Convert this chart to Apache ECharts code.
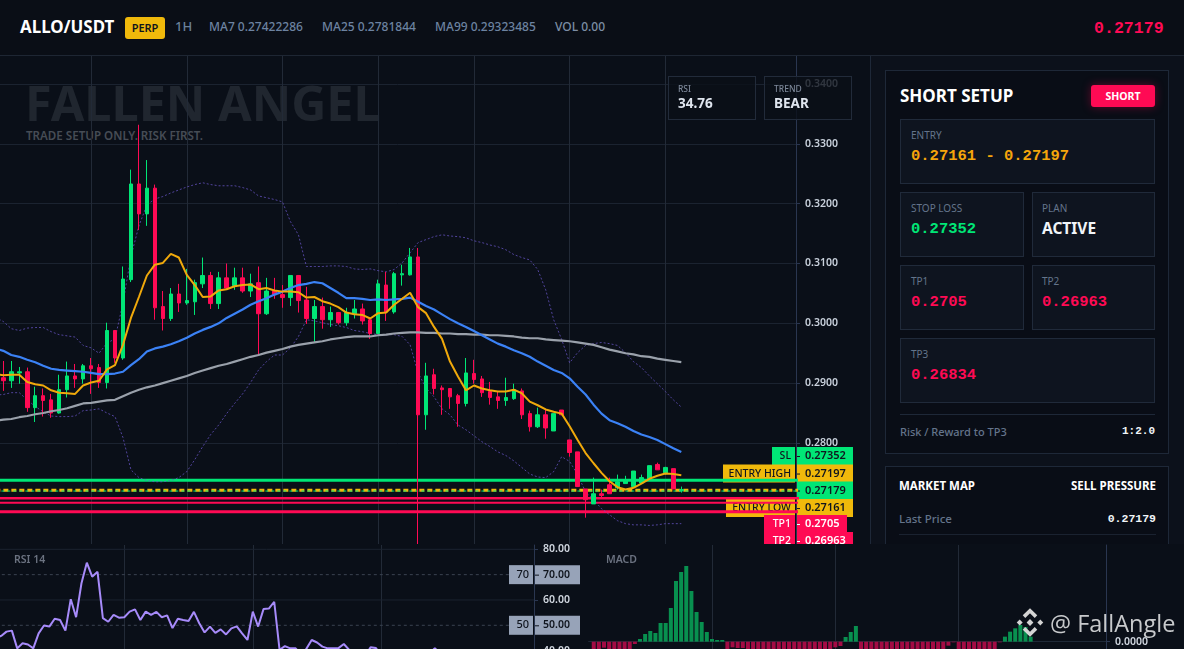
<!DOCTYPE html>
<html><head><meta charset="utf-8">
<script src="https://cdn.jsdelivr.net/npm/echarts@6/dist/echarts.min.js"></script>
<style>
html,body{margin:0;padding:0;width:1184px;height:649px;overflow:hidden;background:#0a0f18;font-family:"Noto Sans",sans-serif;}
.a{position:absolute;white-space:nowrap;line-height:1;}
.m{font-family:"Liberation Mono",monospace;font-weight:700;}
.box{position:absolute;box-sizing:border-box;border:1px solid #1e2838;}
.card{position:absolute;box-sizing:border-box;border:1px solid #202a3a;background:#0e141f;}
.lb{color:#64748b;font-size:10px;}
.val{font-size:15.5px;}
</style></head>
<body>
<div class="a" id="wm1" style="left:25px;top:72px;font-size:48.6px;line-height:60px;font-weight:700;color:#20262f;">FALLEN ANGEL</div>
<div class="a" style="left:26px;top:130px;font-size:11.6px;font-weight:600;color:#464c55;">TRADE SETUP ONLY. RISK FIRST.</div>
<div id="main" style="position:absolute;left:0;top:56px;width:870px;height:489px;"></div>

<div style="position:absolute;left:0;top:0;width:1184px;height:55px;border-bottom:1px solid #1e2633;background:#0a0e16;"></div>
<div class="a" style="left:20px;top:19px;font-size:16.9px;font-weight:700;color:#fff;">ALLO/USDT</div>
<div class="a" style="left:125px;top:17px;width:40px;height:22px;line-height:22px;text-align:center;background:#f0b90b;border-radius:3px;color:#10141c;font-size:11px;font-weight:600;">PERP</div>
<div class="a" style="left:175px;top:20px;font-size:13px;color:#6a8199;font-weight:500;">1H</div>
<div class="a" style="left:209px;top:21px;font-size:12px;color:#6d83a1;font-weight:500;">MA7 0.27422286</div>
<div class="a" style="left:322px;top:21px;font-size:12px;color:#6d83a1;font-weight:500;">MA25 0.2781844</div>
<div class="a" style="left:435px;top:21px;font-size:12px;color:#6d83a1;font-weight:500;">MA99 0.29323485</div>
<div class="a" style="left:555px;top:21px;font-size:12px;color:#7d8ea5;font-weight:500;">VOL 0.00</div>
<div class="a m" style="left:1094px;top:21px;font-size:16.6px;color:#ff0a54;">0.27179</div>

<div class="box" style="left:668px;top:76px;width:88px;height:44px;background:rgba(10,15,24,.8);border-color:#222b3a;"></div>
<div class="a" style="left:678px;top:85px;font-size:8.5px;color:#7d8899;font-weight:500;">RSI</div>
<div class="a" style="left:678px;top:97px;font-size:13.5px;color:#dfe5ee;font-weight:700;">34.76</div>
<div class="box" style="left:764px;top:76px;width:88px;height:44px;background:rgba(10,15,24,.8);border-color:#222b3a;"></div>
<div class="a" style="left:774px;top:85px;font-size:8.5px;color:#7d8899;font-weight:500;">TREND</div>
<div class="a" style="left:774px;top:97px;font-size:13.5px;color:#dfe5ee;font-weight:700;">BEAR</div>

<div style="position:absolute;left:870px;top:56px;width:314px;height:489px;background:#0c111b;border-left:1px solid #1e2838;box-sizing:border-box;"></div>
<div class="box" style="left:885px;top:70px;width:284px;height:384px;background:#090d16;"></div>
<div class="a" style="left:900px;top:87px;font-size:17px;font-weight:700;color:#fff;">SHORT SETUP</div>
<div class="a" style="left:1091px;top:85px;width:64px;height:22px;line-height:22px;text-align:center;background:#ff0a54;border-radius:3px;color:#fff;font-size:10.5px;font-weight:700;box-shadow:0 0 10px rgba(255,10,84,.35);">SHORT</div>

<div class="card" style="left:900px;top:119px;width:255px;height:65px;"></div>
<div class="a lb" style="left:911px;top:130px;">ENTRY</div>
<div class="a m val" style="left:911px;top:149px;color:#f5a50b;">0.27161 - 0.27197</div>

<div class="card" style="left:900px;top:192px;width:124px;height:65px;"></div>
<div class="a lb" style="left:911px;top:203px;">STOP LOSS</div>
<div class="a m val" style="left:911px;top:222px;color:#00e676;">0.27352</div>
<div class="card" style="left:1032px;top:192px;width:123px;height:65px;"></div>
<div class="a lb" style="left:1042px;top:203px;">PLAN</div>
<div class="a" style="left:1042px;top:221px;font-size:15.5px;font-weight:700;color:#f1f5f9;">ACTIVE</div>

<div class="card" style="left:900px;top:265px;width:124px;height:65px;"></div>
<div class="a lb" style="left:911px;top:276px;">TP1</div>
<div class="a m val" style="left:911px;top:295px;color:#ff0a54;">0.2705</div>
<div class="card" style="left:1032px;top:265px;width:123px;height:65px;"></div>
<div class="a lb" style="left:1042px;top:276px;">TP2</div>
<div class="a m val" style="left:1042px;top:295px;color:#ff0a54;">0.26963</div>

<div class="card" style="left:900px;top:338px;width:255px;height:65px;"></div>
<div class="a lb" style="left:911px;top:349px;">TP3</div>
<div class="a m val" style="left:911px;top:368px;color:#ff0a54;">0.26834</div>

<div style="position:absolute;left:900px;top:414px;width:255px;height:1px;background:#1e2838;"></div>
<div class="a" style="left:900px;top:426px;font-size:11px;color:#64748b;font-weight:500;">Risk / Reward to TP3</div>
<div class="a m" style="right:29px;top:426px;font-size:11px;color:#f1f5f9;">1:2.0</div>

<div class="box" style="left:885px;top:466px;width:284px;height:120px;background:#090d16;"></div>
<div class="a" style="left:899px;top:480px;font-size:11.5px;font-weight:700;color:#fff;">MARKET MAP</div>
<div class="a" style="right:28px;top:480px;font-size:11.5px;font-weight:700;color:#fff;">SELL PRESSURE</div>
<div class="a" style="left:899px;top:513px;font-size:11.5px;color:#64748b;font-weight:500;">Last Price</div>
<div class="a m" style="right:28px;top:513px;font-size:11.5px;color:#f1f5f9;">0.27179</div>
<div style="position:absolute;left:899px;top:534px;width:257px;height:1px;background:#1a2230;"></div>

<div id="lower" style="position:absolute;left:0;top:544px;width:1184px;height:105px;background:#0a0f18;"></div>
<div class="a" style="left:14px;top:554px;font-size:10.5px;font-weight:600;color:#6b7280;">RSI 14</div>
<div class="a" style="left:606px;top:554px;font-size:10.5px;font-weight:600;color:#6b7280;">MACD</div>

<svg style="position:absolute;left:1016px;top:608px;" width="28" height="29" viewBox="0 0 28 29">
<g fill="none" stroke="#d4d4d4" stroke-width="3.6">
<path d="M8 8.6 L14 2.8 L20 8.6"/>
<path d="M8 20.4 L14 26.2 L20 20.4"/>
</g>
<g fill="#d4d4d4">
<rect x="1.6" y="12.4" width="4.2" height="4.2" transform="rotate(45 3.7 14.5)"/>
<rect x="22.2" y="12.4" width="4.2" height="4.2" transform="rotate(45 24.3 14.5)"/>
<rect x="11.6" y="12.1" width="4.8" height="4.8" transform="rotate(45 14 14.5)"/>
</g></svg>
<div class="a" style="left:1050px;top:608px;font-size:23.5px;line-height:30px;color:#c8cacc;font-family:'Open Sans',sans-serif;">@ FallAngle</div>

<script>
// ---- price candles ----
const candleOpen=[.2909,.2904,.2917,.2919,.2859,.2879,.2872,.2850,.2889,.2912,.2907,.2929,.2926,.2901,.2988,.2942,.3073,.3233,.3183,.3226,.3028,.3008,.3049,.3034,.3036,.3066,.3080,.3033,.3076,.3063,.3076,.3054,.3068,.3016,.3054,.3048,.3043,.3080,.3039,.3008,.3028,.3006,.3018,.3001,.3016,.3024,.3006,.2983,.3064,.3019,.3081,.3081,.3111,.2847,.2914,.2892,.2891,.2879,.2866,.2916,.2907,.2886,.2877,.2871,.2874,.2887,.2849,.2827,.2847,.2820,.2855,.2805,.2785,.2723,.2698,.2715,.2730,.2725,.2732,.2727,.2733,.2738,.2764,.2750,.2757,.2720];
const candleClose=[.2904,.2919,.2919,.2859,.2879,.2871,.2850,.2889,.2912,.2907,.2929,.2924,.2901,.2988,.2942,.3074,.3233,.3183,.3226,.3026,.3008,.3049,.3034,.3038,.3068,.3080,.3033,.3076,.3059,.3076,.3054,.3066,.3016,.3054,.3048,.3043,.3080,.3038,.3008,.3028,.3006,.3018,.3001,.3018,.3024,.3004,.2983,.3066,.3019,.3083,.3083,.3111,.2847,.2912,.2891,.2889,.2877,.2866,.2917,.2906,.2884,.2876,.2871,.2876,.2889,.2847,.2827,.2847,.2825,.2849,.2847,.2784,.2727,.2705,.2715,.2712,.2715,.2735,.2738,.2753,.2742,.2762,.2755,.2759,.2723,.2722];
const candleHigh=[.2937,.2937,.2927,.2926,.2894,.2891,.2882,.2914,.2936,.2932,.2932,.2942,.2932,.3001,.2988,.3095,.3257,.3332,.3273,.3232,.3054,.3059,.3066,.3091,.3073,.3110,.3086,.3086,.3100,.3093,.3093,.3083,.3095,.3076,.3076,.3064,.3080,.3080,.3061,.3039,.3043,.3028,.3019,.3026,.3039,.3033,.3009,.3073,.3086,.3086,.3098,.3126,.3126,.2934,.2924,.2896,.2891,.2882,.2942,.2939,.2912,.2902,.2886,.2909,.2899,.2891,.2854,.2859,.2855,.2849,.2855,.2805,.2785,.2723,.2742,.2722,.2742,.2747,.2745,.2753,.2747,.2762,.2767,.2760,.2757,.2727];
const candleLow=[.2887,.2892,.2899,.2852,.2835,.2844,.2842,.2849,.2876,.2892,.2899,.2882,.2892,.2891,.2934,.2939,.3069,.3156,.3163,.3006,.2988,.3004,.3019,.3031,.3014,.3059,.3024,.3024,.3056,.3056,.3051,.3044,.2947,.3014,.3041,.3026,.3029,.3018,.2999,.2969,.2991,.2994,.2998,.2996,.3008,.2998,.2974,.2983,.3004,.3016,.3063,.3080,.2625,.2822,.2881,.2847,.2857,.2827,.2861,.2899,.2877,.2864,.2857,.2862,.2872,.2840,.2819,.2825,.2807,.2820,.2847,.2777,.2727,.2675,.2698,.2708,.2715,.2722,.2732,.2727,.2733,.2738,.2755,.2747,.2723,.2717];
// ---- moving averages and bands (first value sits just off the left edge) ----
const ma7=[.2915,.2913,.2914,.2914,.2902,.2898,.2896,.2888,.2884,.2883,.2882,.2896,.2901,.2904,.2923,.2930,.2964,.3009,.3044,.3080,.3098,.3101,.3116,.3110,.3081,.3064,.3044,.3045,.3055,.3057,.3062,.3064,.3065,.3057,.3059,.3055,.3053,.3053,.3052,.3043,.3044,.3037,.3033,.3027,.3018,.3015,.3014,.3008,.3017,.3018,.3031,.3041,.3051,.3027,.3017,.2994,.2974,.2936,.2911,.2888,.2896,.2891,.2888,.2886,.2886,.2889,.2883,.2869,.2863,.2856,.2852,.2849,.2828,.2805,.2783,.2766,.2750,.2736,.2726,.2722,.2725,.2732,.2740,.2745,.2749,.2748,.2746];
const ma25=[.2958,.2954,.2947,.2944,.2939,.2935,.2929,.2924,.2922,.2921,.2920,.2919,.2917,.2915,.2915,.2916,.2919,.2930,.2940,.2953,.2958,.2961,.2965,.2970,.2976,.2983,.2989,.2994,.3000,.3009,.3016,.3023,.3031,.3037,.3042,.3048,.3053,.3059,.3064,.3066,.3069,.3067,.3059,.3051,.3042,.3042,.3041,.3039,.3040,.3039,.3040,.3041,.3043,.3036,.3029,.3023,.3015,.3007,.3000,.2994,.2987,.2980,.2973,.2966,.2961,.2955,.2950,.2944,.2936,.2929,.2922,.2917,.2908,.2894,.2881,.2864,.2849,.2838,.2833,.2827,.2820,.2814,.2810,.2805,.2798,.2791,.2785];
const ma99=[.2837,.2839,.2840,.2843,.2845,.2848,.2850,.2853,.2855,.2858,.2862,.2866,.2867,.2869,.2871,.2872,.2878,.2884,.2889,.2893,.2896,.2900,.2904,.2908,.2912,.2917,.2921,.2925,.2929,.2932,.2936,.2940,.2944,.2947,.2951,.2954,.2957,.2961,.2964,.2966,.2968,.2970,.2973,.2975,.2977,.2978,.2978,.2978,.2980,.2981,.2983,.2984,.2985,.2985,.2984,.2984,.2983,.2983,.2982,.2982,.2981,.2981,.2980,.2980,.2979,.2978,.2976,.2975,.2975,.2973,.2972,.2971,.2970,.2968,.2966,.2964,.2960,.2956,.2953,.2950,.2948,.2945,.2944,.2941,.2939,.2937,.2935];
const bollUpper=[.3010,.3003,.2991,.2988,.2992,.2993,.2993,.2986,.2981,.2979,.2977,.2963,.2959,.2950,.2967,.2974,.3034,.3112,.3163,.3198,.3208,.3212,.3218,.3223,.3228,.3232,.3235,.3232,.3230,.3230,.3230,.3227,.3223,.3213,.3210,.3207,.3203,.3170,.3148,.3095,.3095,.3095,.3096,.3096,.3095,.3091,.3090,.3091,.3088,.3086,.3090,.3101,.3118,.3135,.3140,.3145,.3148,.3146,.3145,.3143,.3138,.3135,.3131,.3128,.3123,.3115,.3110,.3106,.3090,.3056,.3006,.2973,.2934,.2951,.2963,.2966,.2968,.2966,.2963,.2951,.2936,.2926,.2912,.2899,.2886,.2872,.2860];
const bollLower=[.2880,.2881,.2884,.2884,.2872,.2861,.2852,.2845,.2844,.2844,.2845,.2854,.2855,.2857,.2850,.2844,.2809,.2755,.2742,.2737,.2735,.2735,.2737,.2742,.2752,.2772,.2794,.2814,.2830,.2849,.2866,.2882,.2901,.2922,.2936,.2947,.2947,.2959,.2978,.3006,.3004,.3001,.2998,.2996,.2993,.2988,.2986,.2983,.2981,.2981,.2981,.2978,.2964,.2917,.2892,.2877,.2857,.2847,.2830,.2822,.2812,.2802,.2794,.2785,.2779,.2770,.2759,.2748,.2743,.2742,.2752,.2777,.2769,.2747,.2718,.2705,.2690,.2680,.2670,.2665,.2663,.2663,.2662,.2663,.2665,.2665,.2665];
// ---- drawn price levels and their axis tags ----
const levelStop=.27375, levelEntry=.27208, levelLast=.27195, levelTp1=.27074, levelTp2=.27000, levelTp3=.26850;
const tagNames=['SL','ENTRY HIGH','','ENTRY LOW','TP1','TP2'];
const tagValues=['0.27352','0.27197','0.27179','0.27161','0.2705','0.26963'];
const tagAnchors=[.27781,.27488,.27204,.26911,.26644,.26360];
const priceTicks=[.27,.28,.29,.30,.31,.32,.33,.34];
// ---- RSI ----
const rsi=[45,45.8,47.5,47.9,40.9,42.9,42.4,40.9,46.8,49.9,49.5,52.6,52.1,47.9,60.3,53.2,66.6,74.7,69.2,71.1,52.8,51.4,54.1,53,53.2,55.4,56.3,52.1,55.4,54.1,55.3,53.2,53.9,48.9,52.6,52.1,51.7,55.3,50.8,47.2,49.5,47,48.4,46.4,48.8,49.6,46.8,44.2,55.4,49.5,56.4,56.6,59.3,40.3,41.8,40.9,40.9,38.5,40.7,44.2,43.2,41.6,40.9,40.9,41,42.6,40.3,38,37,38,41.3,41,38,36,35,36,37,36,37,37,38,39,40.9,39,38,34.76,34.76];
const rsiTicks=[80,70,60,50,40];
const rsiGuides=[70,50];
const rsiSolid=[80,60];
// ---- MACD histogram ----
const macd=[-.0004,-.0004,-.00018,-.0004,-.0004,-.00045,-.0004,-.0004,-.00007,.00008,.00023,.00032,.00026,.00056,.00056,.00101,.00182,.00209,.00227,.00152,.00089,.00059,.00029,.00008,.00005,.00005,-.0004,-.00017,-.00019,-.00019,-.0004,-.0004,-.0004,-.0004,-.0004,-.0004,-.0004,-.0004,-.0004,-.0004,-.0004,-.0004,-.0004,-.0004,-.0004,-.0004,-.0004,-.00017,-.00013,.00014,.00029,.00047,-.0004,-.0004,-.0004,-.0004,-.0004,-.0004,-.0004,-.0004,-.0004,-.0004,-.0004,-.0004,-.0004,-.0004,-.0004,-.0004,-.0004,-.00012,-.00002,-.0004,-.0004,-.0004,-.0004,-.0004,-.0004,-.0004,-.0004,-.00002,.00015,.0003,.0004,.0005,.00044,.00015];

const BG='#0a0f18', GRID='#1b2330', VGRID='#222a37', AXIS='#2a3650', UP='#00e676', DOWN='#ff0a54', YEL='#f0b90b';
const TAG_LEFT={'SL':24,'ENTRY HIGH':73,'':0,'ENTRY LOW':70,'TP1':32,'TP2':32};
const TAG_RIGHT={'TP1':50};
const vLines12=[12,24,36,48,60,72,84], vLines24=[24,48,72];
const font='"Noto Sans",sans-serif';

const candleRows=candleOpen.map((o,i)=>[i+1,o,candleClose[i],candleLow[i],candleHigh[i]]);
const pts=a=>a.map((v,k)=>[k,v]);
const level=(v,color,width,type,z)=>({type:'line',data:[[0,v],[101,v]],symbol:'none',silent:true,z,lineStyle:{color,width,type,cap:'butt'}});
const band=a=>({type:'line',data:pts(a),symbol:'none',silent:true,z:3,lineStyle:{color:'#6a56c8',width:1,type:[2,2],opacity:.75}});
const ma=(a,color,width)=>({type:'line',data:pts(a),symbol:'none',silent:true,z:5,lineStyle:{color,width}});

function renderTag(params,api){
  const i=api.value(2), name=tagNames[i], value=tagValues[i];
  const cs=params.coordSys, ax=cs.x+cs.width;
  const y=api.coord([api.value(0),api.value(1)])[1], h=18;
  const isTp=name.indexOf('TP')===0, isEntry=name.indexOf('ENTRY')===0;
  const fill=isTp?DOWN:isEntry?YEL:UP, ink=isTp?'#ffffff':'#10151e';
  const lw=TAG_LEFT[name], rw=TAG_RIGHT[name]||56;
  const ch=[];
  if(lw){
    ch.push({type:'rect',shape:{x:ax-lw,y:y-h/2,width:lw-1,height:h},style:{fill}});
    ch.push({type:'text',style:{x:ax-5,y,text:name,fill:ink,font:'500 10.5px '+font,textAlign:'right',textVerticalAlign:'middle'}});
  }
  ch.push({type:'rect',shape:{x:ax+1,y:y-h/2,width:rw,height:h},style:{fill}});
  ch.push({type:'rect',shape:{x:ax+1,y:y,width:3,height:1},style:{fill:ink}});
  ch.push({type:'text',style:{x:ax+9,y,text:value,fill:ink,font:'600 11px '+font,textAlign:'left',textVerticalAlign:'middle'}});
  return {type:'group',children:ch};
}

const mainChart=echarts.init(document.getElementById('main'),null,{renderer:'canvas'});
mainChart.setOption({
  animation:false,backgroundColor:'transparent',
  grid:{left:-4.65,top:0,width:800.65,height:489,containLabel:false,outerBoundsMode:'none'},
  xAxis:{type:'value',min:0,max:100.38,
    axisLabel:{show:false},axisLine:{show:false},
    axisTick:{show:false,customValues:vLines12},
    splitLine:{show:true,lineStyle:{color:VGRID,width:1}}},
  yAxis:{type:'value',position:'right',min:.26293,max:.3447,scale:true,
    axisLine:{show:true,onZero:false,lineStyle:{color:AXIS}},
    axisTick:{show:true,length:4,lineStyle:{color:AXIS},customValues:priceTicks},
    axisLabel:{color:'#c9d1dc',fontSize:10.5,fontWeight:600,fontFamily:font,margin:9,padding:[3,0,0,0],customValues:priceTicks,formatter:v=>v.toFixed(4)},
    splitLine:{show:true,lineStyle:{color:GRID,width:1}}},
  series:[
    {type:'custom',z:1,clip:false,silent:true,renderItem:renderTag,data:tagAnchors.map((p,i)=>[86,p,i])},
    level(levelStop,UP,3,'solid',2),
    level(levelEntry,YEL,3,[5,3],2),
    level(levelLast,UP,1,[3,3],2),
    level(levelTp1,DOWN,2.5,'solid',2),
    level(levelTp2,DOWN,2,'solid',2),
    level(levelTp3,DOWN,3,'solid',2),
    band(bollUpper),band(bollLower),
    {type:'candlestick',z:4,silent:true,barWidth:4,data:candleRows,
     itemStyle:{color:UP,color0:DOWN,borderColor:UP,borderColor0:DOWN,borderWidth:1}},
    ma(ma99,'#9aa1ab',2.2),
    ma(ma25,'#3b82f6',2.2),
    ma(ma7,'#f0a90b',2)
  ]
});

function renderRsiTag(params,api){
  const v=api.value(1), cs=params.coordSys, ax=cs.x+cs.width, y=api.coord([api.value(0),v])[1], h=19;
  return {type:'group',children:[
    {type:'rect',shape:{x:ax-25,y:y-h/2,width:24,height:h},style:{fill:'#97a3b8'}},
    {type:'rect',shape:{x:ax+1,y:y-h/2,width:45,height:h},style:{fill:'#97a3b8'}},
    {type:'rect',shape:{x:ax+1,y:y,width:4,height:1},style:{fill:'#10151e'}},
    {type:'text',style:{x:ax-5,y,text:String(v),fill:'#10151e',font:'500 11px '+font,textAlign:'right',textVerticalAlign:'middle'}},
    {type:'text',style:{x:ax+9,y,text:v.toFixed(2),fill:'#10151e',font:'600 10.5px '+font,textAlign:'left',textVerticalAlign:'middle'}}
  ]};
}

const lowerChart=echarts.init(document.getElementById('lower'),null,{renderer:'canvas'});
lowerChart.setOption({
  animation:false,backgroundColor:BG,
  grid:[
    {left:-4.2,top:1,width:538.2,height:130,outerBoundsMode:'none'},
    {left:588.6,top:1,width:517.4,height:104,outerBoundsMode:'none'}
  ],
  xAxis:[
    {gridIndex:0,type:'value',min:0,max:100.52,axisLabel:{show:false},axisLine:{show:false},
     axisTick:{show:false,customValues:vLines24},splitLine:{show:true,lineStyle:{color:VGRID}}},
    {gridIndex:1,type:'value',min:0,max:100.66,axisLabel:{show:false},
     axisLine:{show:true,onZero:true,lineStyle:{color:'#1f2937'}},
     axisTick:{show:false,customValues:vLines24},splitLine:{show:true,lineStyle:{color:VGRID}}}
  ],
  yAxis:[
    {gridIndex:0,type:'value',position:'right',min:30.38,max:81.7,scale:true,
     axisLine:{show:true,onZero:false,lineStyle:{color:AXIS}},
     axisTick:{show:true,length:4,lineStyle:{color:AXIS},customValues:rsiTicks},
     axisLabel:{color:'#d1d7e0',fontSize:10.5,fontWeight:600,fontFamily:font,margin:9,padding:[3,0,0,0],customValues:rsiTicks,formatter:v=>v.toFixed(2)},
     splitLine:{show:false}},
    {gridIndex:1,type:'value',position:'right',min:-.00022,max:.0029,scale:true,
     axisLine:{show:true,onZero:false,lineStyle:{color:AXIS}},
     axisTick:{show:true,length:4,lineStyle:{color:AXIS},customValues:[0]},
     axisLabel:{color:'#d1d7e0',fontSize:10.5,fontWeight:600,fontFamily:font,margin:9,customValues:[0],formatter:v=>v.toFixed(4)},
     splitLine:{show:false}}
  ],
  series:[
    ...rsiSolid.map(v=>({type:'line',xAxisIndex:0,yAxisIndex:0,data:[[0,v],[100.52,v]],symbol:'none',silent:true,z:1,lineStyle:{color:GRID,width:1}})),
    ...rsiGuides.map(v=>({type:'line',xAxisIndex:0,yAxisIndex:0,data:[[0,v],[100.52,v]],symbol:'none',silent:true,z:1,lineStyle:{color:'#3a4250',width:1,type:[3,3]}})),
    {type:'line',xAxisIndex:0,yAxisIndex:0,data:pts(rsi),symbol:'none',silent:true,z:4,lineStyle:{color:'#a78bfa',width:2}},
    {type:'custom',xAxisIndex:0,yAxisIndex:0,z:5,clip:false,silent:true,renderItem:renderRsiTag,data:rsiGuides.map(v=>[100,v])},
    {type:'bar',xAxisIndex:1,yAxisIndex:1,barWidth:4,silent:true,z:3,
     data:macd.map((v,i)=>({value:[i+1,v],itemStyle:{color:v>=0?'#08904f':'#a30b44'}}))}
  ]
});
</script>
</body></html>
